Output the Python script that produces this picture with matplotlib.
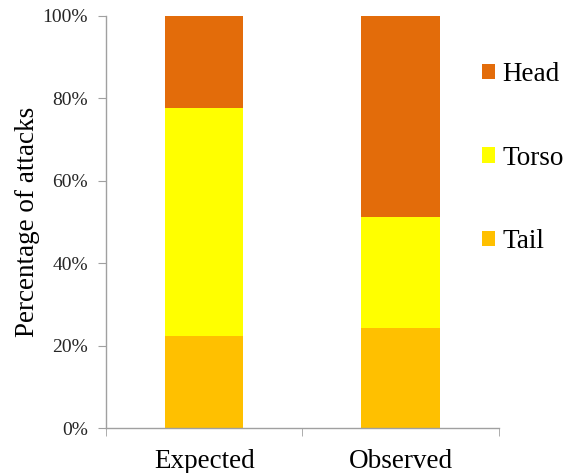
import matplotlib
matplotlib.use("Agg")
import matplotlib.pyplot as plt
from matplotlib.ticker import FuncFormatter
import numpy as np

categories = ["Expected", "Observed"]
tail = [22.3, 24.3]
torso = [55.4, 26.9]
head = [22.3, 48.8]
series_names = ["Tail", "Torso", "Head"]
colors = {"Tail": "#FFC000", "Torso": "#FFFF00", "Head": "#E36C0A"}

plt.rcParams['font.family'] = ['Liberation Serif', 'DejaVu Serif']

fig = plt.figure(figsize=(5.69, 4.73), dpi=100)
ax = fig.add_axes([0.1863, 0.0951, 0.8765 - 0.1863, 0.9662 - 0.0951])

x = np.arange(len(categories))
width = 0.4
bottom = np.zeros(len(categories))
handles = {}
for name, vals in zip(series_names, [tail, torso, head]):
    b = ax.bar(x, vals, width, bottom=bottom, color=colors[name], label=name, linewidth=0)
    handles[name] = b
    bottom += np.array(vals)

ax.set_xlim(-0.5, 1.5)
ax.set_ylim(0, 100)
ax.set_yticks(np.arange(0, 101, 20))
ax.yaxis.set_major_formatter(FuncFormatter(lambda v, p: f"{int(v)}%"))
ax.set_xticks(x)
ax.set_xticklabels(categories, fontsize=19.5)
ax.set_xticks([-0.5, 0.5, 1.5], minor=True)
ax.tick_params(axis='x', which='major', length=0, pad=15)
ax.tick_params(axis='x', which='minor', length=5.5, color='#A0A0A0', direction='out')
ax.tick_params(axis='y', length=6, color='#A0A0A0', labelsize=14, labelcolor='#262626', pad=7)

for s in ['top', 'right']:
    ax.spines[s].set_visible(False)
for s in ['left', 'bottom']:
    ax.spines[s].set_color('#A0A0A0')
    ax.spines[s].set_linewidth(1)

ax.set_ylabel("Percentage of attacks", fontsize=19.5, labelpad=2)

leg = ax.legend([handles[n] for n in ["Head", "Torso", "Tail"]], ["Head", "Torso", "Tail"],
                loc='upper left', bbox_to_anchor=(0.957, 0.888), frameon=False,
                fontsize=19.5, handlelength=0.48, handleheight=0.48, handletextpad=0.28,
                labelspacing=2.16, borderaxespad=0, borderpad=0)

fig.savefig("out.png", dpi=100)
